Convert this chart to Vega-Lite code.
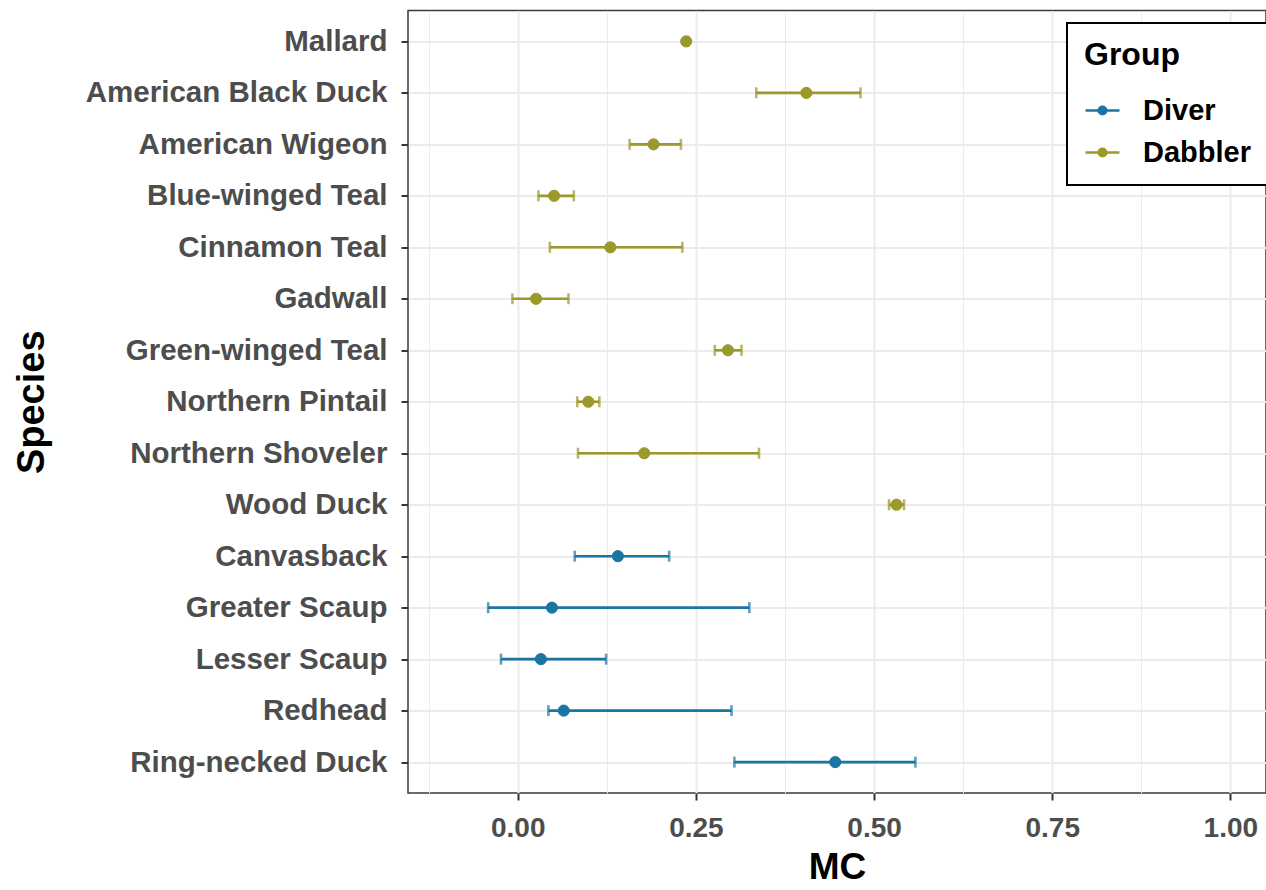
{
  "$schema": "https://vega.github.io/schema/vega-lite/v6.json",
  "width": 858,
  "height": 782.5,
  "autosize": {"type": "none"},
  "padding": {"left": 408, "top": 10.5, "right": 0, "bottom": 97},
  "background": "white",
  "config": {
    "font": "Liberation Sans",
    "view": {"stroke": "#3a3a3a", "strokeWidth": 1.5},
    "axisX": {
      "labelFontSize": 28,
      "labelFontWeight": "bold",
      "labelColor": "#4d4d4d",
      "labelPadding": 14,
      "labelFlush": false,
      "labelOverlap": false,
      "titleFontSize": 37,
      "titleFontWeight": "bold",
      "titleColor": "black",
      "titlePadding": 7,
      "tickSize": 7,
      "tickWidth": 2,
      "tickColor": "#333333",
      "domain": false,
      "grid": true,
      "gridColor": "#ebebeb"
    },
    "legend": {
      "orient": "none",
      "legendX": 659,
      "legendY": 12.5,
      "symbolType": "M-1,0L1,0M0.22,0A0.22,0.22,0,1,1,-0.22,0A0.22,0.22,0,1,1,0.22,0Z",
      "symbolSize": 1156,
      "symbolStrokeWidth": 2.5,
      "labelFontSize": 29,
      "labelFontWeight": "bold",
      "labelColor": "black",
      "labelOffset": 22,
      "titleFontSize": 32,
      "titleFontWeight": "bold",
      "titleColor": "black",
      "titlePadding": 20,
      "rowPadding": 8,
      "padding": 17,
      "strokeColor": "black",
      "strokeWidth": 2,
      "fillColor": "white"
    }
  },
  "data": {
    "values": [
      {"species": "Mallard", "group": "Dabbler", "mc": 0.2364, "lo": 0.234, "hi": 0.239},
      {"species": "American Black Duck", "group": "Dabbler", "mc": 0.405, "lo": 0.3347, "hi": 0.481},
      {"species": "American Wigeon", "group": "Dabbler", "mc": 0.1905, "lo": 0.157, "hi": 0.229},
      {"species": "Blue-winged Teal", "group": "Dabbler", "mc": 0.051, "lo": 0.029, "hi": 0.0787},
      {"species": "Cinnamon Teal", "group": "Dabbler", "mc": 0.130, "lo": 0.045, "hi": 0.231},
      {"species": "Gadwall", "group": "Dabbler", "mc": 0.0257, "lo": -0.0075, "hi": 0.0712},
      {"species": "Green-winged Teal", "group": "Dabbler", "mc": 0.295, "lo": 0.2765, "hi": 0.314},
      {"species": "Northern Pintail", "group": "Dabbler", "mc": 0.099, "lo": 0.0835, "hi": 0.1145},
      {"species": "Northern Shoveler", "group": "Dabbler", "mc": 0.1775, "lo": 0.0845, "hi": 0.3385},
      {"species": "Wood Duck", "group": "Dabbler", "mc": 0.5315, "lo": 0.521, "hi": 0.542},
      {"species": "Canvasback", "group": "Diver", "mc": 0.1405, "lo": 0.080, "hi": 0.2125},
      {"species": "Greater Scaup", "group": "Diver", "mc": 0.048, "lo": -0.0415, "hi": 0.325},
      {"species": "Lesser Scaup", "group": "Diver", "mc": 0.0325, "lo": -0.0235, "hi": 0.124},
      {"species": "Redhead", "group": "Diver", "mc": 0.0645, "lo": 0.043, "hi": 0.300},
      {"species": "Ring-necked Duck", "group": "Diver", "mc": 0.4455, "lo": 0.304, "hi": 0.558}
    ]
  },
  "encoding": {
    "y": {
      "field": "species",
      "type": "nominal",
      "sort": null,
      "scale": {"type": "point", "padding": 0.6},
      "axis": {
        "title": "Species",
        "titleFontSize": 38,
        "titleFontWeight": "bold",
        "titleColor": "black",
        "titlePadding": 157,
        "labelFontSize": 29.5,
        "labelFontWeight": "bold",
        "labelColor": "#4d4d4d",
        "labelPadding": 14,
        "labelLimit": 0,
        "tickSize": 7,
        "tickWidth": 2,
        "tickColor": "#333333",
        "domain": false,
        "grid": true,
        "gridColor": "#ebebeb",
        "gridWidth": 2
      }
    }
  },
  "layer": [
    {
      "mark": {"type": "rule", "strokeWidth": 2.6},
      "encoding": {
        "x": {
          "field": "lo",
          "type": "quantitative",
          "scale": {"domain": [-0.154, 1.05], "nice": false, "zero": false},
          "axis": {
            "title": "MC",
            "values": [-0.125, 0, 0.125, 0.25, 0.375, 0.5, 0.625, 0.75, 0.875, 1.0],
            "labelExpr": "datum.value % 0.25 === 0 ? format(datum.value, '.2f') : ''",
            "tickOpacity": {"condition": {"test": "datum.value % 0.25 !== 0", "value": 0}, "value": 1},
            "gridWidth": {"condition": {"test": "datum.value % 0.25 === 0", "value": 2}, "value": 1}
          }
        },
        "x2": {"field": "hi"},
        "stroke": {
          "field": "group",
          "type": "nominal",
          "scale": {"domain": ["Diver", "Dabbler"], "range": ["#1b75a3", "#9a992a"]},
          "legend": {"title": "Group"}
        }
      }
    },
    {
      "mark": {"type": "tick", "thickness": 2.6, "size": 11, "orient": "vertical"},
      "encoding": {
        "x": {
          "field": "lo",
          "type": "quantitative",
          "scale": {"domain": [-0.154, 1.05], "nice": false, "zero": false},
          "axis": {
            "title": "MC",
            "values": [-0.125, 0, 0.125, 0.25, 0.375, 0.5, 0.625, 0.75, 0.875, 1.0],
            "labelExpr": "datum.value % 0.25 === 0 ? format(datum.value, '.2f') : ''",
            "tickOpacity": {"condition": {"test": "datum.value % 0.25 !== 0", "value": 0}, "value": 1},
            "gridWidth": {"condition": {"test": "datum.value % 0.25 === 0", "value": 2}, "value": 1}
          }
        },
        "fill": {
          "field": "group",
          "type": "nominal",
          "scale": {"domain": ["Diver", "Dabbler"], "range": ["#1b75a3", "#9a992a"]},
          "legend": {"title": "Group"}
        }
      }
    },
    {
      "mark": {"type": "tick", "thickness": 2.6, "size": 11, "orient": "vertical"},
      "encoding": {
        "x": {
          "field": "hi",
          "type": "quantitative",
          "scale": {"domain": [-0.154, 1.05], "nice": false, "zero": false},
          "axis": {
            "title": "MC",
            "values": [-0.125, 0, 0.125, 0.25, 0.375, 0.5, 0.625, 0.75, 0.875, 1.0],
            "labelExpr": "datum.value % 0.25 === 0 ? format(datum.value, '.2f') : ''",
            "tickOpacity": {"condition": {"test": "datum.value % 0.25 !== 0", "value": 0}, "value": 1},
            "gridWidth": {"condition": {"test": "datum.value % 0.25 === 0", "value": 2}, "value": 1}
          }
        },
        "fill": {
          "field": "group",
          "type": "nominal",
          "scale": {"domain": ["Diver", "Dabbler"], "range": ["#1b75a3", "#9a992a"]},
          "legend": {"title": "Group"}
        }
      }
    },
    {
      "mark": {"type": "point", "filled": true, "size": 125, "strokeWidth": 1, "opacity": 1},
      "encoding": {
        "x": {
          "field": "mc",
          "type": "quantitative",
          "scale": {"domain": [-0.154, 1.05], "nice": false, "zero": false},
          "axis": {
            "title": "MC",
            "values": [-0.125, 0, 0.125, 0.25, 0.375, 0.5, 0.625, 0.75, 0.875, 1.0],
            "labelExpr": "datum.value % 0.25 === 0 ? format(datum.value, '.2f') : ''",
            "tickOpacity": {"condition": {"test": "datum.value % 0.25 !== 0", "value": 0}, "value": 1},
            "gridWidth": {"condition": {"test": "datum.value % 0.25 === 0", "value": 2}, "value": 1}
          }
        },
        "fill": {
          "field": "group",
          "type": "nominal",
          "scale": {"domain": ["Diver", "Dabbler"], "range": ["#1b75a3", "#9a992a"]},
          "legend": {"title": "Group"}
        },
        "stroke": {
          "field": "group",
          "type": "nominal",
          "scale": {"domain": ["Diver", "Dabbler"], "range": ["#1b75a3", "#9a992a"]},
          "legend": {"title": "Group"}
        }
      }
    }
  ]
}
